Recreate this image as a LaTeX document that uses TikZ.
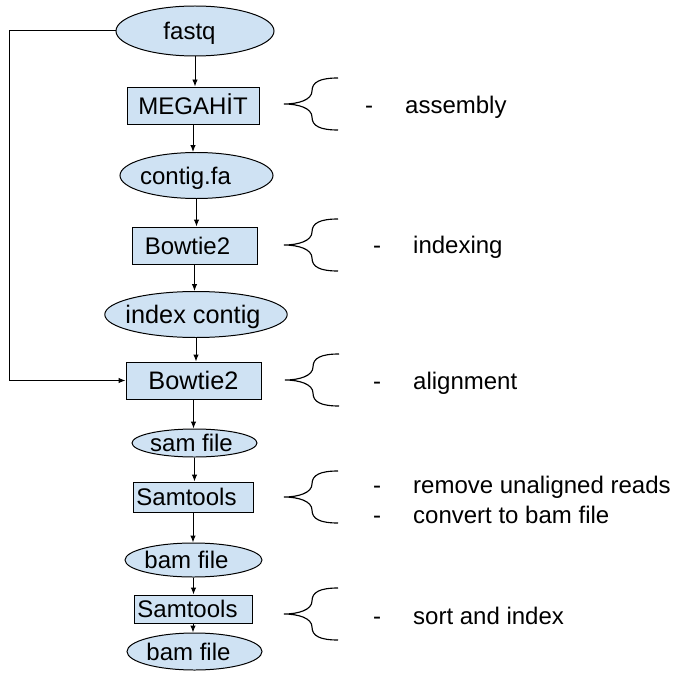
\documentclass[tikz,border=0pt]{standalone}
\usepackage{fontspec}
\setmainfont{Liberation Sans}
\usetikzlibrary{arrows.meta,shapes.geometric}
\definecolor{stepblue}{HTML}{CFE2F3}
\def\curlybrace(#1){\draw[curlyline, shift={(#1)}] (54, -26) .. controls (36, -26) and (28, -22) .. (28, -13) .. controls (28, -4) and (14, 0) .. (0, 0) .. controls (14, 0) and (28, 4) .. (28, 13) .. controls (28, 22) and (36, 26) .. (54, 26);}
\def\lshift#1#2{\hspace*{-#1pt}#2}

\begin{document}
\begin{tikzpicture}[x=1pt, y=-1pt,
		every node/.style={font=\fontsize{24}{28}\selectfont, inner sep=0pt, text height=17.2pt, text depth=0pt},
		oval/.style={ellipse, draw, line width=0.35mm, fill=stepblue},
		tool/.style={rectangle, draw, line width=0.35mm, fill=stepblue},
		bigger/.style={font=\fontsize{25.3}{29}\selectfont},
		flow/.style={line width=0.35mm, -{Latex[length=7pt, width=5.5pt]}},
		curlyline/.style={line width=0.4mm},
		note/.style={anchor=base west, text height=, text depth=}]
		%%%%% START %%%%%
		
		\useasboundingbox (0, 0) rectangle (685, 687);
		
		\node[oval, minimum width=158, minimum height=50] (fastq) at (195, 31) {\lshift{11}{fastq}};
		\node[tool, minimum width=132, minimum height=37] (megahit) at (193, 105.5) {MEGAHİT};
		\node[oval, minimum width=153, minimum height=46] (contig) at (196.5, 175.5) {\lshift{22}{contig.fa}};
		\node[tool, minimum width=125, minimum height=37] (bowtiea) at (194.5, 245.5) {\lshift{14}{Bowtie2}};
		\node[oval, bigger, minimum width=162, minimum height=46] (index) at (196, 314.5) {\lshift{6}{index contig}};
		\node[tool, bigger, minimum width=135, minimum height=37] (bowtieb) at (193.5, 380.5) {Bowtie2};
		\node[oval, minimum width=125, minimum height=28] (sam) at (194.5, 443) {\lshift{6}{sam file}};
		\node[tool, minimum width=120, minimum height=30] (samtoolsa) at (193, 497) {\lshift{13}{Samtools}};
		\node[oval, minimum width=137, minimum height=34] (bama) at (193.5, 560) {\lshift{14}{bam file}};
		\node[tool, minimum width=118, minimum height=28] (samtoolsb) at (193, 609) {\lshift{11}{Samtools}};
		\node[oval, minimum width=135, minimum height=37] (bamb) at (194.5, 651.5) {\lshift{12}{bam file}};
		
		\draw[flow] (fastq) -- (fastq |- megahit.north);
		\draw[flow] (megahit) -- (megahit |- contig.north);
		\draw[flow] (contig) -- (contig |- bowtiea.north);
		\draw[flow] (bowtiea) -- (bowtiea |- index.north);
		\draw[flow] (index) -- (index |- bowtieb.north);
		\draw[flow] (bowtieb) -- (bowtieb |- sam.north);
		\draw[flow] (sam) -- (sam |- samtoolsa.north);
		\draw[flow] (samtoolsa) -- (samtoolsa |- bama.north);
		\draw[flow] (bama) -- (bama |- samtoolsb.north);
		\draw[flow] (samtoolsb) -- (samtoolsb |- bamb.north);
		
		\coordinate (loop) at (9.5, 0);
		\draw[flow] (fastq.west) -- (fastq.west -| loop) |- (bowtieb.west);
		
		\curlybrace(284, 104)
		\curlybrace(284, 245)
		\curlybrace(285, 380)
		\curlybrace(284, 497)
		\curlybrace(284, 614)
		
		\node[note] (dasha) at (365, 114) {-};
		\node[note] (assembly) at (405, 114) {assembly};
		\node[note] (dashb) at (373, 253) {-};
		\node[note] (indexing) at (413, 253) {indexing};
		\node[note] (dashc) at (373, 389) {-};
		\node[note] (alignment) at (413, 389) {alignment};
		\node[note] (dashd) at (373, 493) {-};
		\node[note] (remove) at (413, 493) {remove unaligned reads};
		\node[note] (dashe) at (373, 523) {-};
		\node[note] (convert) at (413, 523) {convert to bam file};
		\node[note] (dashf) at (373, 624) {-};
		\node[note] (sort) at (413, 624) {sort and index};
		
		%%%%% END %%%%%
\end{tikzpicture}
\end{document}
